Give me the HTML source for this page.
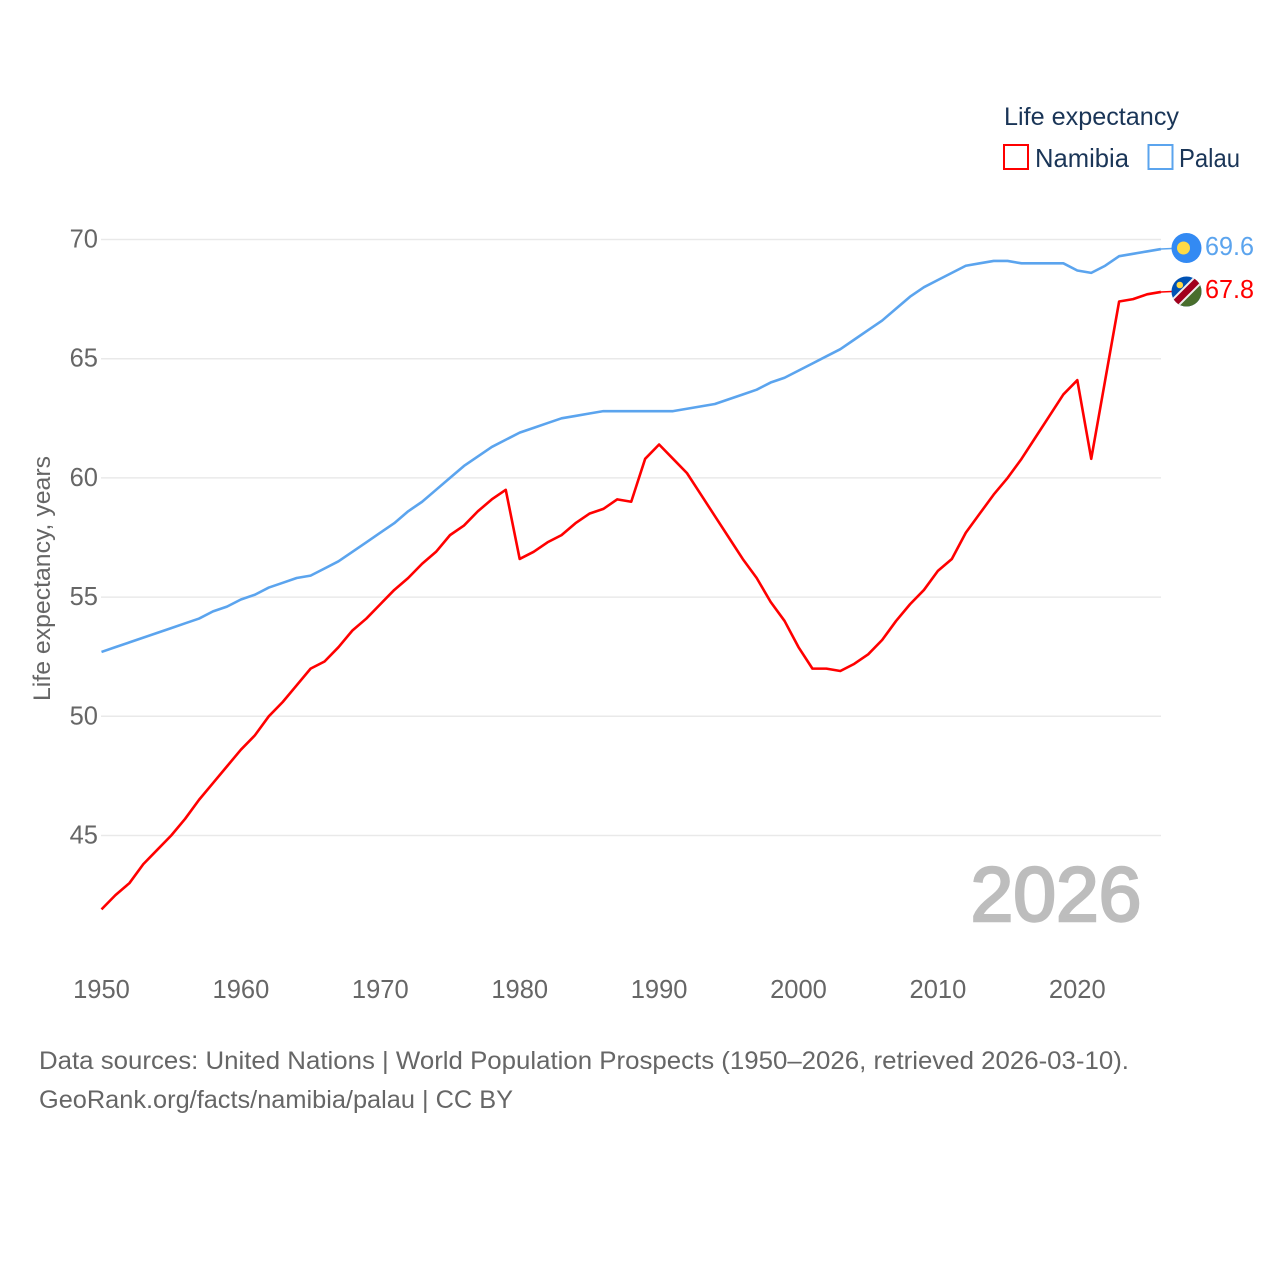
<!DOCTYPE html>
<html lang="en">
<head>
<meta charset="utf-8">
<title>Life expectancy: Namibia and Palau</title>
<style>
html,body{margin:0;padding:0;background:#fff;}
svg{display:block;}
text{font-family:"Liberation Sans","DejaVu Sans",sans-serif;}
</style>
</head>
<body>
<svg id="chart" xmlns="http://www.w3.org/2000/svg" width="1280" height="1280" viewBox="0 0 1280 1280">
  <defs>
    <clipPath id="flag-clip-namibia"><circle cx="0" cy="0" r="15"></circle></clipPath>
  </defs>
  <g id="grid"></g>
  <g id="y-ticks"></g>
  <g id="x-ticks"></g>
  <text transform="translate(50,701) rotate(-90)" font-size="24" fill="#666" textLength="245" lengthAdjust="spacingAndGlyphs">Life expectancy, years</text>
  <text x="970.500" y="921" font-size="77" fill="#bdbdbd" stroke="#bdbdbd" stroke-width="2.4" textLength="171" lengthAdjust="spacing">2026</text>
  <g id="series"></g>
  <g id="ends"></g>

  <g transform="translate(1186.5,248)">
    <circle r="15" fill="#338af3"></circle>
    <circle cx="-3" cy="0" r="6.5" fill="#ffda44"></circle>
  </g>
  <g transform="translate(1186.5,291.5)" clip-path="url(#flag-clip-namibia)">
    <rect x="-15" y="-15" width="30" height="30" fill="#0052b4"></rect>
    <polygon points="15,-15 15,15 -15,15" fill="#496e2d"></polygon>
    <line x1="-15" y1="15" x2="15" y2="-15" stroke="#f0f0f0" stroke-width="10.5"></line>
    <line x1="-15" y1="15" x2="15" y2="-15" stroke="#a2001d" stroke-width="6.5"></line>
    <circle cx="-6.700" cy="-6.500" r="3.300" fill="#ffda44"></circle>
  </g>

  <g>
    <text x="1004" y="125" font-size="25" fill="#1a3557" textLength="175" lengthAdjust="spacingAndGlyphs">Life expectancy</text>
    <g>
      <rect x="1004" y="145" width="24" height="24" fill="#fff" stroke="#ff0000" stroke-width="2"></rect>
      <text x="1035" y="167" font-size="26" fill="#1a3557" textLength="94" lengthAdjust="spacingAndGlyphs">Namibia</text>
    </g>
    <g>
      <rect x="1148.500" y="145" width="24" height="24" fill="#fff" stroke="#5ba4ee" stroke-width="2"></rect>
      <text x="1179" y="167" font-size="26" fill="#1a3557" textLength="61" lengthAdjust="spacingAndGlyphs">Palau</text>
    </g>
  </g>

  <g>
    <text x="39" y="1069" font-size="25" fill="#666" textLength="1090" lengthAdjust="spacingAndGlyphs">Data sources: United Nations | World Population Prospects (1950–2026, retrieved 2026-03-10).</text>
    <text x="39" y="1108" font-size="25" fill="#666" textLength="474" lengthAdjust="spacingAndGlyphs">GeoRank.org/facts/namibia/palau | CC BY</text>
  </g>
</svg>
<script>
var startYear = 1950;
var yTickValues = [45, 50, 55, 60, 65, 70];
var xTickValues = [1950, 1960, 1970, 1980, 1990, 2000, 2010, 2020];
var namibiaValues = [
  41.9, 42.5, 43.0, 43.8, 44.4, 45.0, 45.7, 46.5, 47.2, 47.9,
  48.6, 49.2, 50.0, 50.6, 51.3, 52.0, 52.3, 52.9, 53.6, 54.1,
  54.7, 55.3, 55.8, 56.4, 56.9, 57.6, 58.0, 58.6, 59.1, 59.5,
  56.6, 56.9, 57.3, 57.6, 58.1, 58.5, 58.7, 59.1, 59.0, 60.8,
  61.4, 60.8, 60.2, 59.3, 58.4, 57.5, 56.6, 55.8, 54.8, 54.0,
  52.9, 52.0, 52.0, 51.9, 52.2, 52.6, 53.2, 54.0, 54.7, 55.3,
  56.1, 56.6, 57.7, 58.5, 59.3, 60.0, 60.8, 61.7, 62.6, 63.5,
  64.1, 60.8, 64.1, 67.4, 67.5, 67.7, 67.8
];
var palauValues = [
  52.7, 52.9, 53.1, 53.3, 53.5, 53.7, 53.9, 54.1, 54.4, 54.6,
  54.9, 55.1, 55.4, 55.6, 55.8, 55.9, 56.2, 56.5, 56.9, 57.3,
  57.7, 58.1, 58.6, 59.0, 59.5, 60.0, 60.5, 60.9, 61.3, 61.6,
  61.9, 62.1, 62.3, 62.5, 62.6, 62.7, 62.8, 62.8, 62.8, 62.8,
  62.8, 62.8, 62.9, 63.0, 63.1, 63.3, 63.5, 63.7, 64.0, 64.2,
  64.5, 64.8, 65.1, 65.4, 65.8, 66.2, 66.6, 67.1, 67.6, 68.0,
  68.3, 68.6, 68.9, 69.0, 69.1, 69.1, 69.0, 69.0, 69.0, 69.0,
  68.7, 68.6, 68.9, 69.3, 69.4, 69.5, 69.6
];

var SVG_NS = 'http://www.w3.org/2000/svg';
function xScale(year) { return 101.5 + (year - 1950) * 13.94; }
function yScale(value) { return 239.5 + (70 - value) * 23.84; }
function make(tag, parent, attrs, content) {
  var el = document.createElementNS(SVG_NS, tag);
  for (var k in attrs) { el.setAttribute(k, attrs[k]); }
  if (content !== undefined) { el.textContent = content; }
  parent.appendChild(el);
  return el;
}

var gridGroup = document.getElementById('grid');
var yTickGroup = document.getElementById('y-ticks');
var xTickGroup = document.getElementById('x-ticks');
var seriesGroup = document.getElementById('series');
var endsGroup = document.getElementById('ends');

yTickValues.forEach(function (v) {
  var line = make('line', gridGroup, { x1: 101, x2: 1161, y1: yScale(v), y2: yScale(v), stroke: '#e9e9e9', 'stroke-width': 1.5 });
  
  
  var label = make('text', yTickGroup, { x: 98, y: yScale(v) + 8, 'text-anchor': 'end', 'font-size': 25.5, fill: '#666' }, String(v));
  
  
});

xTickValues.forEach(function (yr) {
  var label = make('text', xTickGroup, { x: xScale(yr), y: 998, 'text-anchor': 'middle', 'font-size': 25.5, fill: '#666' }, String(yr));
  
  
});

function linePoints(values) {
  return values.map(function (v, i) {
    return xScale(startYear + i).toFixed(2) + ',' + yScale(v).toFixed(2);
  }).join(' ');
}

var namibiaLine = make('polyline', seriesGroup, { points: linePoints(namibiaValues), fill: 'none', stroke: '#ff0000', 'stroke-width': 2.6, 'stroke-linejoin': 'round' });



var palauLine = make('polyline', seriesGroup, { points: linePoints(palauValues), fill: 'none', stroke: '#5ba4ee', 'stroke-width': 2.6, 'stroke-linejoin': 'round' });



var lastYear = startYear + palauValues.length - 1;
var palauLast = palauValues[palauValues.length - 1];
var namibiaLast = namibiaValues[namibiaValues.length - 1];

var palauConnector = make('line', endsGroup, { x1: xScale(lastYear), x2: 1172, y1: yScale(palauLast), y2: yScale(palauLast) - 0.5, stroke: '#5ba4ee', 'stroke-width': 1.5 });



var namibiaConnector = make('line', endsGroup, { x1: xScale(lastYear), x2: 1172, y1: yScale(namibiaLast), y2: yScale(namibiaLast) - 0.5, stroke: '#ff0000', 'stroke-width': 1.5 });



var palauEnd = make('text', endsGroup, { x: 1205, y: 255, 'font-size': 25.5, fill: '#5ba4ee', textLength: 49, lengthAdjust: 'spacingAndGlyphs' }, palauLast.toFixed(1));



var namibiaEnd = make('text', endsGroup, { x: 1205, y: 298, 'font-size': 25.5, fill: '#ff0000', textLength: 49, lengthAdjust: 'spacingAndGlyphs' }, namibiaLast.toFixed(1));


</script>
</body>
</html>
